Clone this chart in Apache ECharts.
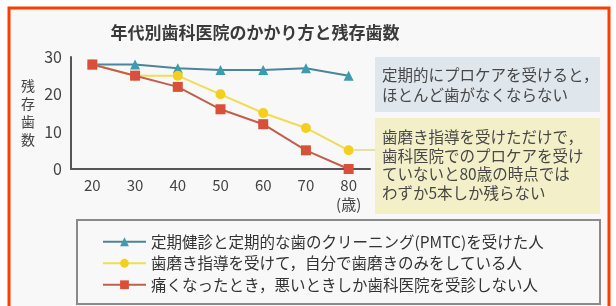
<!DOCTYPE html>
<html>
<head>
<meta charset="utf-8">
<script src="https://cdn.jsdelivr.net/npm/echarts@6/dist/echarts.min.js"></script>
<style>
  html, body { margin: 0; padding: 0; background: #fff; }
  #chart { width: 616px; height: 306px; }
</style>
</head>
<body>
<div id="chart"></div>
<script>
// 年代（歳）
const ages = ["20", "30", "40", "50", "60", "70", "80"];
// 残存歯数
const pmtcTeeth = [28, 28, 27, 26.5, 26.5, 27, 25];
const brushTeeth = [28, 25, 25, 20, 15, 11, 5];
const painTeeth = [28, 25, 22, 16, 12, 5, 0];
const seriesNames = [
  "定期健診と定期的な歯のクリーニング(PMTC)を受けた人",
  "歯磨き指導を受けて，自分で歯磨きのみをしている人",
  "痛くなったとき，悪いときしか歯科医院を受診しない人",
];
const yTicks = { min: 0, max: 30, interval: 10 };

const font = '"Noto Sans CJK JP", "Noto Sans", sans-serif';
const chart = echarts.init(document.getElementById("chart"));

function makeSeries(name, data, lineColor, markColor, symbol, size) {
  return {
    name: name,
    type: "line",
    data: data,
    symbol: symbol,
    symbolSize: size,
    lineStyle: { color: lineColor, width: 2 },
    itemStyle: { color: markColor },
    z: 3,
  };
}

chart.setOption({
  backgroundColor: "#fff",
  textStyle: { fontFamily: font },
  title: {
    text: "年代別歯科医院のかかり方と残存歯数",
    left: 250,
    textAlign: "center",
    top: 19,
    textStyle: { fontSize: 17, fontWeight: "bold", color: "#3a3a3a", fontFamily: font },
  },
  grid: { left: 71, top: 57, width: 299, height: 112 },
  xAxis: {
    type: "category",
    data: ages,
    boundaryGap: true,
    axisLine: { lineStyle: { color: "#555", width: 2 } },
    axisTick: { show: false },
    axisLabel: {
      margin: 7,
      fontSize: 15,
      color: "#444",
      lineHeight: 19,
      fontFamily: font,
      formatter: (v) => (v === "80" ? "80\n(歳)" : v),
    },
  },
  yAxis: {
    type: "value",
    min: yTicks.min,
    max: yTicks.max,
    interval: yTicks.interval,
    splitLine: { show: false },
    axisLine: { show: true, lineStyle: { color: "#555", width: 2 } },
    axisTick: { show: false },
    axisLabel: { margin: 9, fontSize: 16, color: "#444", fontFamily: font },
    name: "残\n存\n歯\n数",
    nameLocation: "middle",
    nameRotate: 0,
    nameGap: 43,
    nameTextStyle: { fontSize: 14, lineHeight: 18, color: "#444", align: "center", verticalAlign: "middle", fontFamily: font },
  },
  legend: {
    orient: "vertical",
    left: 97,
    top: 229,
    itemWidth: 43,
    itemHeight: 11,
    itemGap: 6,
    textStyle: { fontSize: 15.5, color: "#333", fontFamily: font },
    data: seriesNames,
  },
  series: [
    makeSeries(seriesNames[0], pmtcTeeth, "#4d8499", "#3a9cae", "triangle", 10),
    makeSeries(seriesNames[1], brushTeeth, "#f0dc55", "#f5cf20", "circle", 10),
    makeSeries(seriesNames[2], painTeeth, "#c25f4c", "#d8503a", "rect", 10),
  ],
  graphic: [
    {
      type: "rect",
      shape: { x: 9, y: 8, width: 600, height: 310 },
      style: { fill: "#f8f8f8", stroke: "#ff3d00", lineWidth: 3 },
      z: -10,
    },
    {
      type: "rect",
      shape: { x: 77, y: 220, width: 523, height: 84 },
      style: { fill: "none", stroke: "#8a8a8a", lineWidth: 2 },
      z: -1,
    },
    {
      type: "line",
      shape: { x1: 354, y1: 150, x2: 375, y2: 150 },
      style: { stroke: "#e6dfa8", lineWidth: 2 },
      z: -1,
    },
    {
      type: "group",
      left: 375,
      top: 57,
      children: [
        { type: "rect", shape: { x: 0, y: 0, width: 225, height: 55 }, style: { fill: "#dfe6ec" } },
        {
          type: "text",
          x: 7,
          y: 8,
          style: {
            text: "定期的にプロケアを受けると，\nほとんど歯がなくならない",
            fontSize: 15.5,
            lineHeight: 20,
            fill: "#474747",
            fontFamily: font,
          },
        },
      ],
    },
    {
      type: "group",
      left: 375,
      top: 118,
      children: [
        { type: "rect", shape: { x: 0, y: 0, width: 225, height: 96 }, style: { fill: "#f3f0c9" } },
        {
          type: "text",
          x: 7,
          y: 10,
          style: {
            text: "歯磨き指導を受けただけで，\n歯科医院でのプロケアを受け\nていないと80歳の時点では\nわずか5本しか残らない",
            fontSize: 15.5,
            lineHeight: 18.5,
            fill: "#474747",
            fontFamily: font,
          },
        },
      ],
    },
  ],
});
</script>
</body>
</html>
